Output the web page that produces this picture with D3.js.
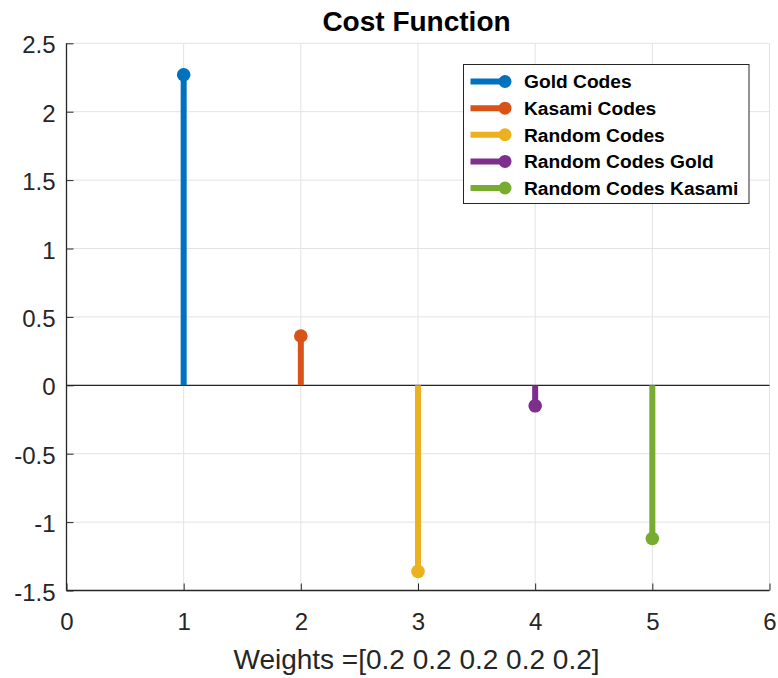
<!DOCTYPE html>
<html>
<head>
<meta charset="utf-8">
<script src="https://cdn.jsdelivr.net/npm/d3@7"></script>
<style>
  html, body { margin: 0; padding: 0; background: #fff; }
  svg { display: block; font-family: "Liberation Sans", Arial, Helvetica, sans-serif; }
</style>
</head>
<body>
<svg id="chart" width="778" height="678"></svg>
<script>
// ---- data ----
const seriesNames = ["Gold Codes", "Kasami Codes", "Random Codes", "Random Codes Gold", "Random Codes Kasami"];
const seriesX = [1, 2, 3, 4, 5];
const seriesValues = [2.27, 0.36, -1.36, -0.15, -1.12];
const seriesColors = ["#0072BD", "#D95319", "#EDB120", "#7E2F8E", "#77AC30"];
const xTicks = [0, 1, 2, 3, 4, 5, 6];
const yTicks = [2.5, 2, 1.5, 1, 0.5, 0, -0.5, -1, -1.5];
const yTickLabels = ["2.5", "2", "1.5", "1", "0.5", "0", "-0.5", "-1", "-1.5"];
const titleText = "Cost Function";
const xLabelText = "Weights =[0.2 0.2 0.2 0.2 0.2]";

// ---- layout ----
const svg = d3.select("#chart");
const pL = 66.5, pR = 769.5, pT = 43.3, pB = 590.5;
const x = d3.scaleLinear().domain([0, 6]).range([pL, pR]);
const y = d3.scaleLinear().domain([-1.5, 2.5]).range([pB, pT]);
const axisColor = "#262626";
const gridColor = "#e3e3e3";

// grid
const grid = svg.append("g");
grid.selectAll("line.gx").data(xTicks).enter().append("line")
  .attr("x1", d => x(d)).attr("x2", d => x(d))
  .attr("y1", pT).attr("y2", pB)
  .attr("stroke", gridColor).attr("stroke-width", 1);
grid.selectAll("line.gy").data(yTicks).enter().append("line")
  .attr("x1", pL).attr("x2", pR)
  .attr("y1", d => y(d)).attr("y2", d => y(d))
  .attr("stroke", gridColor).attr("stroke-width", 1);

// baseline at zero
svg.append("line")
  .attr("x1", pL).attr("x2", pR)
  .attr("y1", y(0)).attr("y2", y(0))
  .attr("stroke", "#262626").attr("stroke-width", 1.2);

// axes (ticks inward)
const xAxis = d3.axisBottom(x).tickValues(xTicks).tickSize(-7).tickPadding(14)
  .tickFormat(d3.format("d"));
const gx = svg.append("g").attr("transform", `translate(0,${pB})`).call(xAxis);
const yAxis = d3.axisLeft(y).tickValues(yTicks).tickSize(-7).tickPadding(11)
  .tickFormat((d, i) => yTickLabels[i]);
const gy = svg.append("g").attr("transform", `translate(${pL},0)`).call(yAxis);
[gx, gy].forEach(g => {
  g.select(".domain").attr("stroke", axisColor).attr("stroke-width", 1.3);
  g.selectAll(".tick line").attr("stroke", axisColor).attr("stroke-width", 1);
  g.selectAll(".tick text").attr("fill", axisColor)
    .attr("font-size", 24).attr("font-family", "Liberation Sans, Arial, sans-serif");
});
gx.select(".domain").attr("d", `M${pL},0H${pR}`);
gy.select(".domain").attr("d", `M0,${pB}V${pT}`);
gx.selectAll(".tick text").attr("dy", "0").attr("y", 39);
gy.selectAll(".tick text").attr("dy", "0.4em");

// stems
const data = seriesX.map((xv, i) => ({ x: xv, v: seriesValues[i], c: seriesColors[i], name: seriesNames[i] }));
const stems = svg.append("g");
stems.selectAll("line").data(data).enter().append("line")
  .attr("x1", d => x(d.x)).attr("x2", d => x(d.x))
  .attr("y1", y(0)).attr("y2", d => y(d.v))
  .attr("stroke", d => d.c).attr("stroke-width", 6);
stems.selectAll("circle").data(data).enter().append("circle")
  .attr("cx", d => x(d.x)).attr("cy", d => y(d.v)).attr("r", 6.8)
  .attr("fill", d => d.c);

// title
svg.append("text").attr("x", (pL + pR) / 2 - 1.5).attr("y", 31)
  .attr("text-anchor", "middle").attr("font-weight", "bold").attr("font-size", 28)
  .attr("fill", "#000").text(titleText);

// x label
svg.append("text").attr("x", (pL + pR) / 2 - 1.5).attr("y", 669)
  .attr("text-anchor", "middle").attr("font-size", 28)
  .attr("fill", axisColor).text(xLabelText);

// legend
const lg = svg.append("g");
lg.append("rect").attr("x", 463.5).attr("y", 64.5).attr("width", 285.5).attr("height", 139)
  .attr("fill", "#fff").attr("stroke", "#262626").attr("stroke-width", 1);
const rowY = d3.scaleLinear().domain([0, 4]).range([81.5, 188]);
const items = lg.selectAll("g.item").data(data).enter().append("g")
  .attr("transform", (d, i) => `translate(0,${rowY(i)})`);
items.append("line").attr("x1", 470.5).attr("x2", 505).attr("y1", 0).attr("y2", 0)
  .attr("stroke", d => d.c).attr("stroke-width", 6);
items.append("circle").attr("cx", 505).attr("cy", 0).attr("r", 6.5).attr("fill", d => d.c);
items.append("text").attr("x", 524).attr("y", 0).attr("dy", "0.36em")
  .attr("font-size", 19.2).attr("font-weight", "bold").attr("fill", "#000")
  .text(d => d.name);
</script>
</body>
</html>
